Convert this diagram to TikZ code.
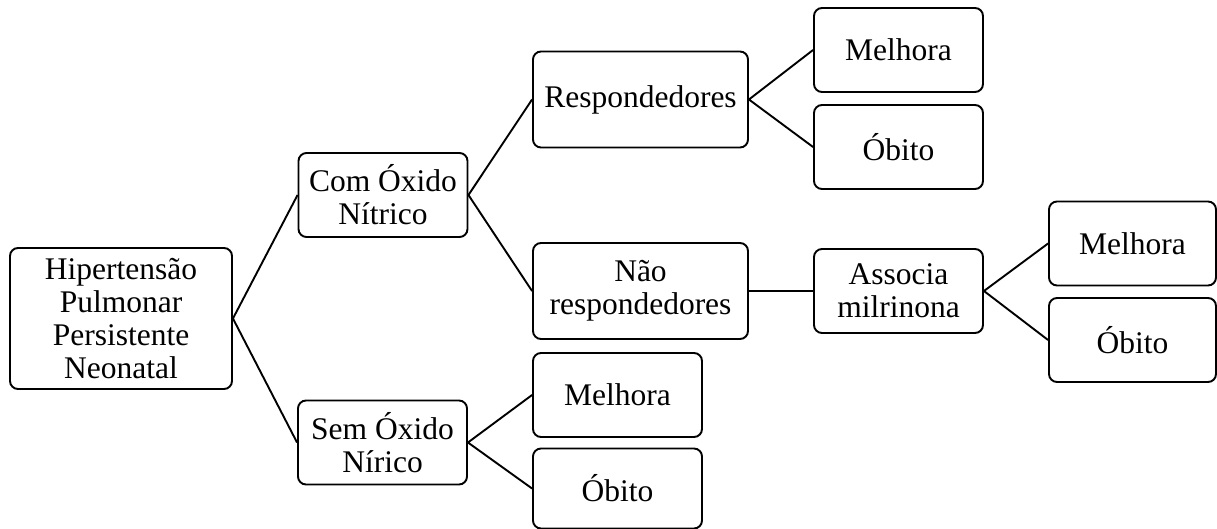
\documentclass[tikz,border=0pt]{standalone}
\usepackage{fontspec}
\setmainfont{Liberation Serif}
\usepackage{tikz}
\usetikzlibrary{positioning}
\tikzstyle{box}=[rectangle, draw=black, line width=1.9pt, rounded corners=8pt, fill=white, align=center, inner sep=0pt, minimum width=169pt, minimum height=84pt, font=\fontsize{31.5}{33}\selectfont]
\tikzstyle{wide}=[box, minimum width=215pt, minimum height=96pt]
\tikzstyle{root}=[box, minimum width=222pt, minimum height=141pt]
\tikzstyle{link}=[draw=black, line width=1.9pt]

\begin{document}
\begin{tikzpicture}[node distance=258pt]
      \useasboundingbox (0pt,0pt) rectangle (1217pt,-529pt);
      \node[root] (hppn) at (121pt,-318.5pt) {Hipertensão\\Pulmonar\\Persistente\\Neonatal};
      \node[box] (com) [right of=hppn,xshift=4pt,yshift=123.5pt] {Com Óxido\\Nítrico};
      \node[box] (sem) [right of=hppn,xshift=3.5pt,yshift=-124pt] {Sem Óxido\\Nírico};

      \node[wide] (resp) [right of=com,xshift=-0.5pt,yshift=95.5pt] {Respondedores};
      \node[wide] (nao) [right of=com,xshift=-0.5pt,yshift=-96pt] {Não\\respondedores};
      \node[box] (mel3) [right of=sem,xshift=-23pt,yshift=47.5pt] {Melhora};
      \node[box,minimum height=80pt] (obi3) [right of=sem,xshift=-23pt,yshift=-46pt] {Óbito};

      \node[box] (mel1) [right of=resp,yshift=49.5pt] {Melhora};
      \node[box] (obi1) [right of=resp,yshift=-47.5pt] {Óbito};
      \node[box] (assoc) [right of=nao] {Associa\\milrinona};

      \node[box,minimum width=167pt] (mel2) [right of=assoc,xshift=-24pt,yshift=47.5pt] {Melhora};
      \node[box,minimum width=167pt] (obi2) [right of=assoc,xshift=-24pt,yshift=-49pt] {Óbito};

      \draw[link] (com.west) -- (hppn.east) -- (sem.west);
      \draw[link] (resp.west) -- (com.east) -- (nao.west);
      \draw[link] (mel3.west) -- (sem.east) -- (obi3.west);
      \draw[link] (mel1.west) -- (resp.east) -- (obi1.west);
      \draw[link] (nao.east) -- (assoc.west);
      \draw[link] (mel2.west) -- (assoc.east) -- (obi2.west);
\end{tikzpicture}
\end{document}
